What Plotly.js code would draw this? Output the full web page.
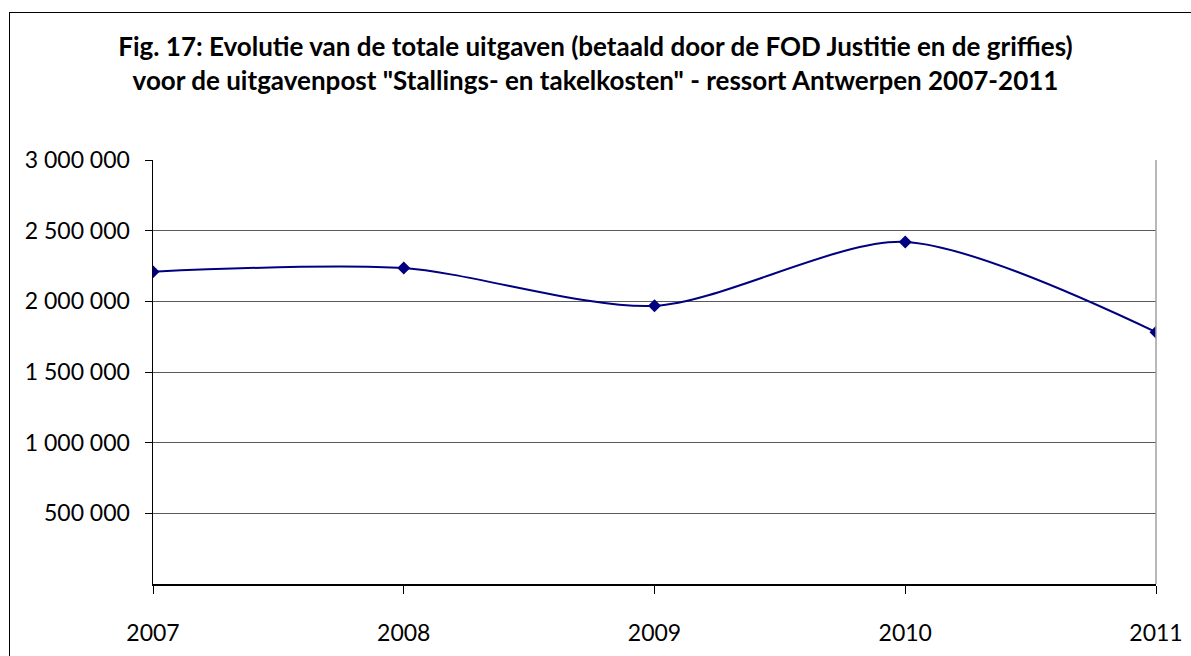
<!DOCTYPE html>
<html>
<head>
<meta charset="utf-8">
<script src="https://cdn.plot.ly/plotly-3.0.1.min.js"></script>
<style>
  html, body { margin: 0; padding: 0; background: #fff; }
  #wrap { position: relative; width: 1191px; height: 656px; overflow: hidden; }
  #chart { position: absolute; left: 0; top: 0; width: 1191px; height: 656px; }
  #frame { position: absolute; left: 9px; top: 12px; width: 1200px; height: 700px;
           border-left: 1.5px solid #000; border-top: 1.5px solid #000; pointer-events: none; }
</style>
</head>
<body>
<div id="wrap">
  <div id="chart"></div>
  <div id="frame"></div>
</div>
<script>
const years = ["2007", "2008", "2009", "2010", "2011"];
const uitgaven = [2210000, 2235000, 1968000, 2420000, 1782000];
const yTickVals = [500000, 1000000, 1500000, 2000000, 2500000, 3000000];
const yTickText = ["500 000", "1 000 000", "1 500 000", "2 000 000", "2 500 000", "3 000 000"];

const FONT = "Lato, 'Open Sans', sans-serif";

Plotly.newPlot("chart", [{
  x: years,
  y: uitgaven,
  type: "scatter",
  mode: "lines+markers",
  line: { color: "#000080", width: 2, shape: "spline", smoothing: 0.8 },
  marker: { symbol: "diamond", size: 10, color: "#000080" },
  hoverinfo: "x+y"
}], {
  width: 1191,
  height: 656,
  paper_bgcolor: "#ffffff",
  plot_bgcolor: "#ffffff",
  margin: { l: 153, r: 35, t: 160, b: 72 },
  showlegend: false,
  title: {
    text: "<b>Fig. 17: Evolutie van de totale uitgaven (betaald door de FOD Justitie en de griffies)</b><br><b>voor de uitgavenpost \"Stallings- en takelkosten\" - ressort Antwerpen 2007-2011</b>",
    font: { family: FONT, size: 26, color: "#000" },
    x: 0.5, xanchor: "center",
    y: 0.914, yanchor: "middle"
  },
  xaxis: {
    type: "category",
    range: [0, 4],
    showgrid: false,
    showline: true, linecolor: "#000", linewidth: 1.5,
    ticks: "outside", ticklen: 8, tickcolor: "#000", tickwidth: 1,
    tickfont: { family: FONT, size: 23, color: "#000" },
    ticklabelstandoff: 20,
    fixedrange: true
  },
  yaxis: {
    range: [0, 3000000],
    tickvals: yTickVals,
    ticktext: yTickText,
    showgrid: true, gridcolor: "#5a5a5a", gridwidth: 1,
    showline: true, linecolor: "#000", linewidth: 1.5,
    ticks: "outside", ticklen: 7, tickcolor: "#000", tickwidth: 1,
    tickfont: { family: FONT, size: 23, color: "#000" },
    ticklabelstandoff: 10,
    zeroline: false,
    fixedrange: true
  },
  shapes: [
    { type: "line", xref: "paper", yref: "paper", x0: 1, x1: 1, y0: 0, y1: 1,
      line: { color: "#a0a0a0", width: 1.5 } }
  ]
}, { displayModeBar: false, staticPlot: true });
</script>
</body>
</html>
